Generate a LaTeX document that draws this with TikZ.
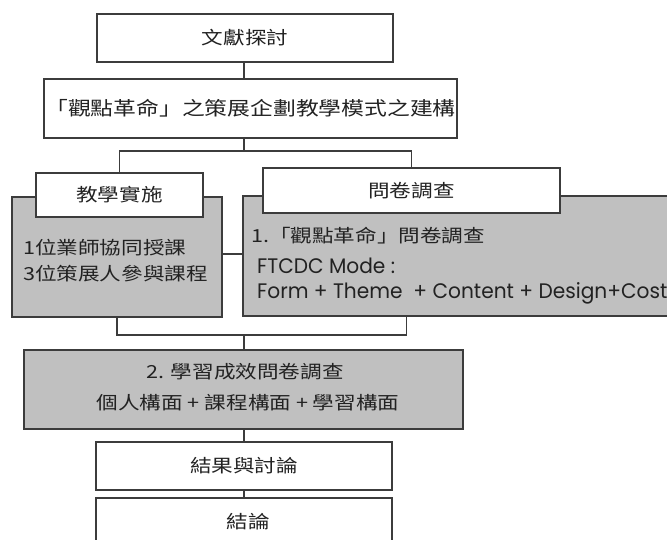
\documentclass[tikz,border=0pt]{standalone}
\usepackage{fontspec}
\usepackage{graphicx}
\setmainfont{Noto Sans CJK TC}
\newfontfamily\latinfont{Poppins}
\newcommand\cjktxt[2]{{\fontsize{#1}{#1}\selectfont\scalebox{1.2}[1]{#2}}}
\definecolor{linec}{HTML}{3C3C3C}
\definecolor{grayc}{HTML}{C0C0C0}
\definecolor{textc}{HTML}{222222}
\begin{document}
\begin{tikzpicture}[x=1pt,y=-1pt,
  wbox/.style={draw=linec,line width=1.2pt,fill=white,inner sep=0pt,text=textc},
  gbox/.style={wbox,fill=grayc},
  conn/.style={draw=linec,line width=1.2pt},
  lbl/.style={inner sep=0pt,anchor=west,text=textc}]
\useasboundingbox (0,0) rectangle (667,540);
\clip (0,0) rectangle (667,540);
% boxes
\node[wbox,minimum width=296pt,minimum height=48pt] (b1) at (245,38) {\cjktxt{18}{文獻探討}};
\node[wbox,minimum width=413pt,minimum height=59pt] (b2) at (250.5,108.5) {\cjktxt{19}{「觀點革命」之策展企劃教學模式之建構}};
\node[gbox,minimum width=210pt,minimum height=120pt] (gl) at (117,257) {};
\node[gbox,minimum width=437pt,minimum height=120pt] (gr) at (461.5,256) {};
\node[wbox,minimum width=167pt,minimum height=44pt] (wl) at (119.5,195) {\cjktxt{18}{教學實施}};
\node[wbox,minimum width=297pt,minimum height=45pt] (wr) at (411.5,190.5) {\cjktxt{18}{問卷調查}};
\node[lbl] (tl) at (23,262.5) {\fontsize{18}{25}\selectfont\scalebox{1.2}[1]{\begin{tabular}{@{}l@{}}1位業師協同授課\\3位策展人參與課程\end{tabular}}};
\node[lbl] (q1) at (251,236) {\cjktxt{18}{1.「觀點革命」問卷調查}};
\node[lbl] (q2) at (257,281) {\latinfont\fontsize{21}{25}\selectfont\scalebox{0.96}[1]{\begin{tabular}{@{}l@{}}FTCDC Mode :\\Form + Theme\ \ + Content + Design+Cost\end{tabular}}};
\node[gbox,minimum width=439pt,minimum height=79pt] (g2) at (243.5,389.5) {};
\node[inner sep=0pt,text=textc] (g2a) at (245,372) {\cjktxt{18}{2. 學習成效問卷調查}};
\node[inner sep=0pt,text=textc] (g2b) at (248,403) {\cjktxt{18}{個人構面 + 課程構面 + 學習構面}};
\node[wbox,minimum width=296pt,minimum height=48pt] (res) at (244,466) {\cjktxt{18}{結果與討論}};
\node[wbox,minimum width=296pt,minimum height=64pt] (con) at (244,530) {};
\node[inner sep=0pt,text=textc] (cont) at (248,522) {\cjktxt{18}{結論}};
% connectors
\coordinate (split) at (244,151);
\coordinate (merge) at (244,335);
\coordinate (rb) at ([xshift=164pt]gr.south west);
\draw[conn] (b1.south -| split) -- (b2.north -| split);
\draw[conn] (b2.south -| split) -- (split);
\draw[conn] (wl.north) |- (split) -| (wr.north);
\draw[conn] ([yshift=3pt]gl.east) -- ([yshift=3pt]gl.east -| gr.west);
\draw[conn] (gl.south) |- (merge) -| (rb);
\draw[conn] (merge) -- (g2.north -| merge);
\draw[conn] (g2.south -| merge) -- (res.north -| merge);
\draw[conn] (res.south -| merge) -- (con.north -| merge);
\end{tikzpicture}
\end{document}
